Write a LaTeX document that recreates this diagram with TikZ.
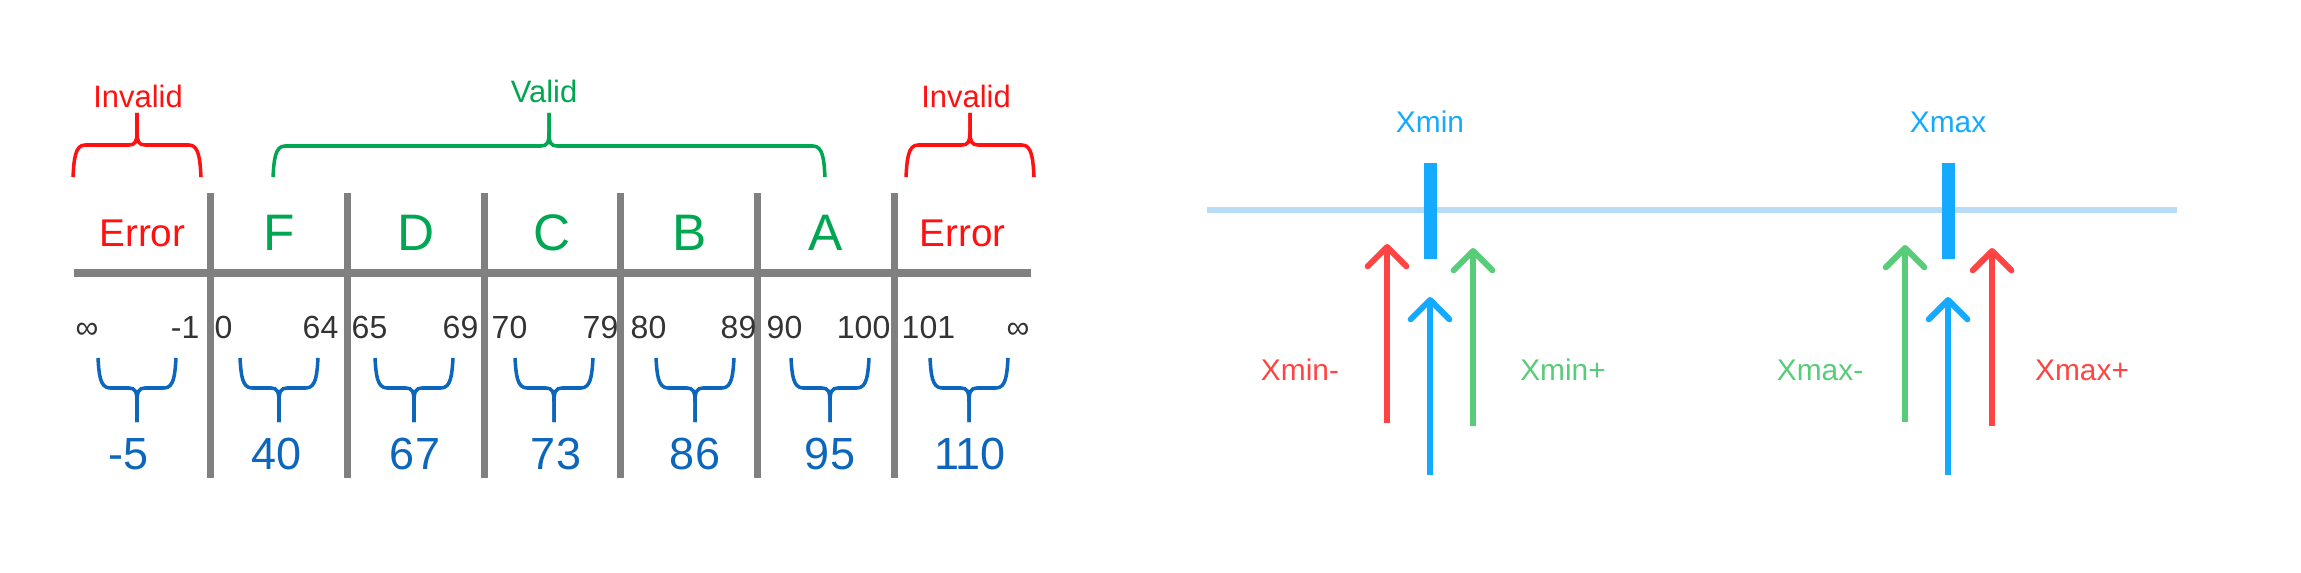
\documentclass[tikz,border=0pt]{standalone}
\usepackage{fontspec}
\setmainfont{Liberation Sans}
\usetikzlibrary{arrows.meta}

\definecolor{badred}{RGB}{255,17,17}
\definecolor{okgreen}{RGB}{0,166,81}
\definecolor{rulegray}{RGB}{128,128,128}
\definecolor{numgray}{RGB}{51,51,51}
\definecolor{testblue}{RGB}{12,102,188}
\definecolor{bndblue}{RGB}{20,170,255}
\definecolor{axisblue}{RGB}{184,220,245}
\definecolor{lowred}{RGB}{255,68,68}
\definecolor{highgreen}{RGB}{88,204,120}

%% curly brace: colour, x from, x to, y of legs, y of bar, y of tip
\newcommand{\curly}[6]{%
  \draw[#1, bracepen]
    (#2,#4) .. controls ({#2+1},{#5+0.45*(#4-#5)}) and ({#2+2},#5) .. ({#2+12},#5)
    -- ({(#2+#3)/2-8},#5)
    .. controls ({(#2+#3)/2-2},#5) and ({(#2+#3)/2},{#5+0.1*(#6-#5)}) .. ({(#2+#3)/2},{#5+0.4*(#6-#5)})
    -- ({(#2+#3)/2},#6);
  \draw[#1, bracepen]
    (#3,#4) .. controls ({#3-1},{#5+0.45*(#4-#5)}) and ({#3-2},#5) .. ({#3-12},#5)
    -- ({(#2+#3)/2+8},#5)
    .. controls ({(#2+#3)/2+2},#5) and ({(#2+#3)/2},{#5+0.1*(#6-#5)}) .. ({(#2+#3)/2},{#5+0.4*(#6-#5)})
    -- ({(#2+#3)/2},#6);
}

\begin{document}
\begin{tikzpicture}[x=0.01cm, y=-0.01cm,
  txt/.style={inner sep=0pt, anchor=base},
  bracepen/.style={line width=1pt},
  rule/.style={rulegray, line width=2pt},
  limit/.style={inner sep=0pt, numgray, font=\fontsize{9.1}{10}\selectfont},
  probe/.style={line width=1.7pt, -{Straight Barb[length=5.5pt, width=11pt, round]}},
  bnd/.style={txt, font=\fontsize{8.5}{10}\selectfont}]
  \useasboundingbox (0,0) rectangle (2301,573);

  %% Grade table: axis and column rules
  \draw[rule, line width=2.3pt] (74,273) -- (1031,273);
  \foreach \k in {1,...,6}{
    \draw[rule] ({74+136.7*\k},193) -- ({74+136.7*\k},478);
  }

  %% Grade names (cell width 136.7)
  \foreach \g/\col/\fs/\yb [count=\k from 0] in
    {Error/badred/11/246, F/okgreen/14.6/250, D/okgreen/14.6/250,
     C/okgreen/14.6/250, B/okgreen/14.6/250, A/okgreen/14.6/250,
     Error/badred/11/246}{
    \node[txt, \col, font=\fontsize{\fs}{\fs}\selectfont] (grade\k)
      at ({74+136.7*(\k+0.5)},\yb) {\g};
  }

  %% Valid / invalid partitions
  \curly{badred}{73}{201}{177}{145}{113}
  \node[txt, badred, font=\fontsize{8.8}{10}\selectfont] (invlo) at (138,108) {Invalid};
  \curly{okgreen}{273}{825}{177}{146}{113}
  \node[txt, okgreen, font=\fontsize{8.8}{10}\selectfont] (valid) at (544,103) {Valid};
  \curly{badred}{906}{1034}{177}{145}{113}
  \node[txt, badred, font=\fontsize{8.8}{10}\selectfont] (invhi) at (966,108) {Invalid};

  %% Range limits of each class
  \foreach \lo/\xl/\hi/\xr [count=\k] in
    {∞/75/-1/200, 0/214/64/339, 65/351/69/479, 70/491/79/619,
     80/630/89/757, 90/766/100/891, 101/901/∞/1030}{
    \node[limit, anchor=base west] (lo\k) at (\xl,338) {\lo};
    \node[limit, anchor=base east] (hi\k) at (\xr,338) {\hi};
  }

  %% Test value picked from each class
  \foreach \bx/\nx/\val [count=\k] in
    {137/129/-5, 279/277/40, 414/415/67, 554/556/73,
     695/695/86, 830/830/95, 969/970/110}{
    \curly{testblue}{\bx-39}{\bx+39}{358}{388}{422}
    \node[txt, testblue, font=\fontsize{12.8}{14}\selectfont] (pick\k) at (\nx,469) {\val};
  }

  %% Boundary value axis
  \draw[axisblue, line width=1.7pt] (1207,210) -- (2177,210);
  \draw[bndblue, line width=3.7pt] (1430,163) -- (1430,259);
  \draw[bndblue, line width=3.7pt] (1948,163) -- (1948,259);
  \node[bnd, bndblue] (xmin) at (1430,133) {Xmin};
  \node[bnd, bndblue] (xmax) at (1948,133) {Xmax};

  %% Probes round Xmin
  \draw[probe, lowred]    (1387,423) -- (1387,244);
  \draw[probe, bndblue]   (1430,475) -- (1430,297);
  \draw[probe, highgreen] (1473,426) -- (1473,248);
  \node[bnd, lowred]    (xminlo) at (1300,380) {Xmin-};
  \node[bnd, highgreen] (xminhi) at (1563,380) {Xmin+};

  %% Probes round Xmax
  \draw[probe, highgreen] (1905,422) -- (1905,245);
  \draw[probe, bndblue]   (1948,475) -- (1948,297);
  \draw[probe, lowred]    (1992,426) -- (1992,248);
  \node[bnd, highgreen] (xmaxlo) at (1820,380) {Xmax-};
  \node[bnd, lowred]    (xmaxhi) at (2082,380) {Xmax+};
\end{tikzpicture}
\end{document}
